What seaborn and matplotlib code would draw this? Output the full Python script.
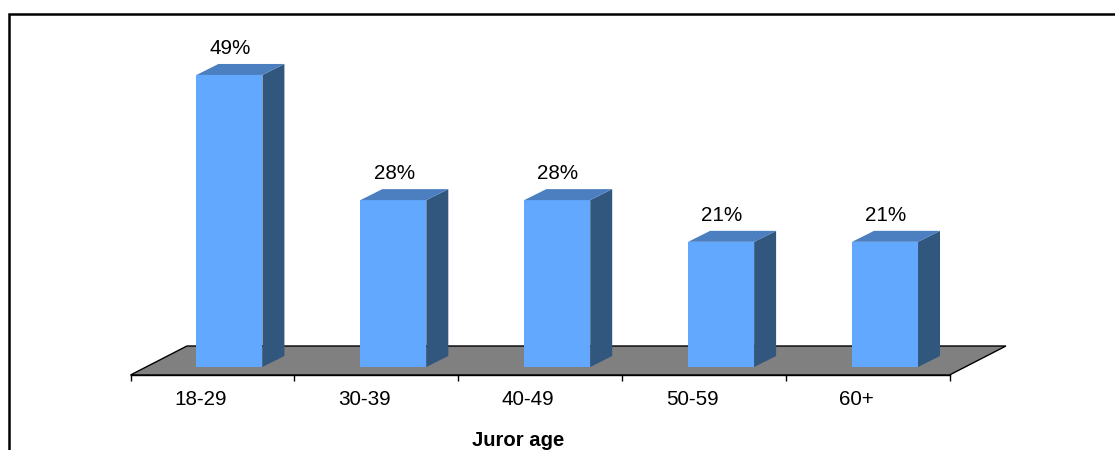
import matplotlib
matplotlib.use('Agg')
import numpy as np
import pandas as pd
import seaborn as sns
from matplotlib import pyplot as plt
from matplotlib.lines import Line2D
from matplotlib.patches import Polygon
from matplotlib.transforms import ScaledTranslation

age_groups = ['18-29', '30-39', '40-49', '50-59', '60+']
juror_pct = [49, 28, 28, 21, 21]

W, H = 1115, 450
PX_PER_PCT = 5.96
CAT_PX = 164.0
BASE_Y = 367  # pixel row of the bars' front bottom edge

sns.set_theme(style='white')
plt.rcParams['font.family'] = ['Liberation Sans', 'DejaVu Sans']

fig = plt.figure(figsize=(W / 100, H / 100), dpi=100)
# axes runs from first to last tick, bottom edge is the front of the floor
ax = fig.add_axes([130.5 / W, 1 - 375 / H, 819.5 / W, (375 - 20) / H])

df = pd.DataFrame({'age': age_groups, 'pct': juror_pct})
sns.barplot(data=df, x='age', y='pct', ax=ax, color='#62A8FF', saturation=1, width=66 / CAT_PX,
            linewidth=0, edgecolor='none', zorder=3)

x_first = 229.5
ax.set_xlim((130.5 - x_first) / CAT_PX, (950 - x_first) / CAT_PX)
ax.set_ylim(-8 / PX_PER_PCT, (BASE_Y - 20) / PX_PER_PCT)

dx = 22 / CAT_PX
dy = 11 / PX_PER_PCT

# 3d faces on top of each seaborn bar
for bar in ax.patches[:len(juror_pct)]:
    x0, w, h = bar.get_x(), bar.get_width(), bar.get_height()
    x1 = x0 + w
    ax.add_patch(Polygon([(x1, 0), (x1 + dx, dy), (x1 + dx, h + dy), (x1, h)], fc='#31577F', ec='none', zorder=3))
    ax.add_patch(Polygon([(x0, h), (x0 + dx, h + dy), (x1 + dx, h + dy), (x1, h)], fc='#4C7FC0', ec='none', zorder=3))

# floor
fl, fr = ax.get_xlim()
fy = ax.get_ylim()[0]
back_y = fy + 29 / PX_PER_PCT
back_dx = 56.5 / CAT_PX
ax.add_patch(Polygon([(fl, fy), (fl + back_dx, back_y), (fr + back_dx, back_y), (fr, fy)],
                     fc='#808080', ec='black', lw=1, zorder=1, clip_on=False))

# value labels
for i, v in enumerate(juror_pct):
    ax.text(i + 0.005, v + dy + 10 / PX_PER_PCT, f'{v}%', ha='center', va='baseline', fontsize=14.9, color='black')

sns.despine(ax=ax, left=True, right=True, top=True)
ax.spines['bottom'].set_color('black')
ax.spines['bottom'].set_linewidth(1)
ax.set_yticks([])
ax.set_ylabel('')
ax.set_xlabel('')
ax.patch.set_alpha(0)

ax.set_xticks(np.arange(len(age_groups)))
ax.set_xticklabels(age_groups, fontsize=14.9, color='black')
ax.set_xticks(np.arange(len(age_groups) + 1) + fl, minor=True)
ax.tick_params(axis='x', which='major', length=0, pad=11)
ax.tick_params(axis='x', which='minor', bottom=True, length=4.5, width=1, color='black')
shift = ScaledTranslation(-29 / 100, 0, fig.dpi_scale_trans)
for lab in ax.get_xticklabels():
    lab.set_transform(lab.get_transform() + shift)

fig.text(518.5 / W, 1 - 446 / H, 'Juror age', ha='center', va='baseline', fontsize=14.6, fontweight='bold', color='black')

# chart frame: top and left only, the rest is cut off in the picture
fig.add_artist(Line2D([8.7 / W, 8.7 / W, 1], [0, 1 - 14.3 / H, 1 - 14.3 / H],
                      color='black', lw=1.8, solid_joinstyle='miter'))

fig.savefig('out.png', dpi=100)
